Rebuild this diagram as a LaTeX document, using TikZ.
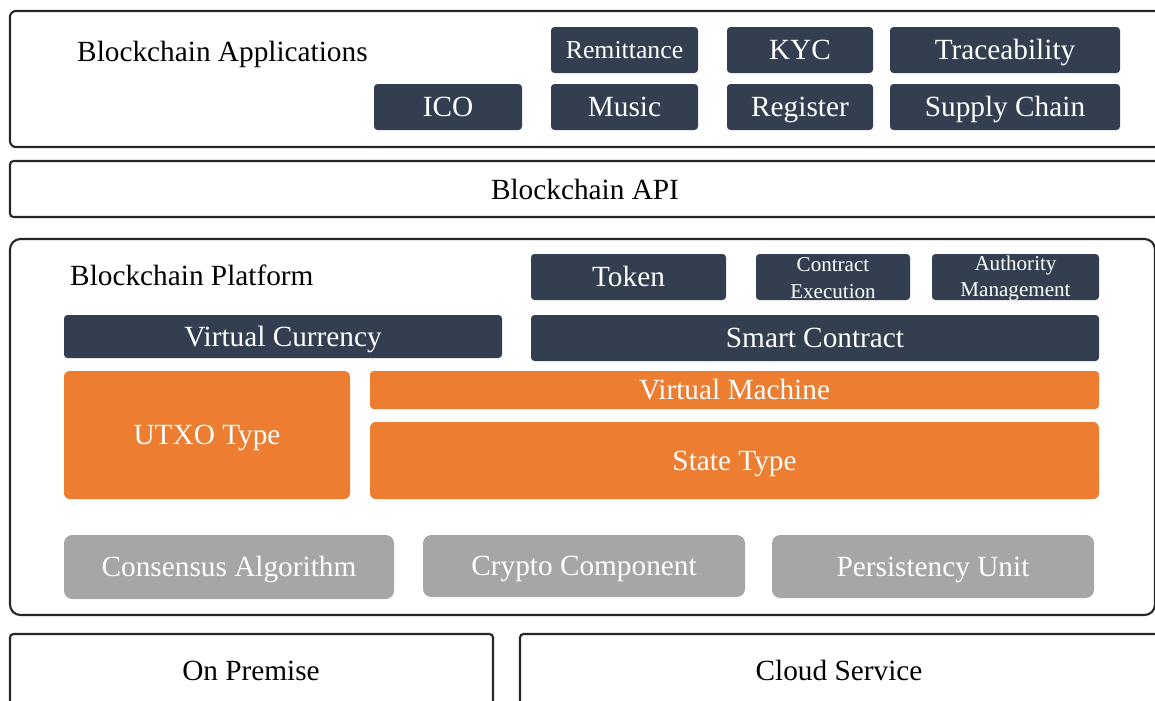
\documentclass[tikz,border=0pt]{standalone}
\usepackage{fontspec}
\setmainfont{Liberation Serif}
\usetikzlibrary{fit}
\definecolor{darkbox}{HTML}{333F50}
\definecolor{orangebox}{HTML}{ED7D31}
\definecolor{graybox}{HTML}{A6A6A6}
\definecolor{outline}{HTML}{262626}
\tikzset{
  bigfont/.style={font=\fontsize{25}{27}\selectfont},
  outer/.style={draw=outline, line width=1.8pt, rounded corners=5pt, inner sep=0pt},
  darkb/.style={fill=darkbox, rounded corners=3pt, inner sep=0pt},
  orangeb/.style={fill=orangebox, rounded corners=5pt, inner sep=0pt},
  grayb/.style={fill=graybox, rounded corners=7pt, inner sep=0pt},
  lbl/.style={inner sep=0pt, text height=16.5pt, text depth=0pt, bigfont},
  wlbl/.style={lbl, text=white},
  smalllbl/.style={wlbl, text height=14.5pt, font=\fontsize{22}{24}\selectfont},
  tinylbl/.style={inner sep=0pt, text=white, align=center, font=\fontsize{18}{22.5}\selectfont},
  title/.style={anchor=west, lbl}
}
\newcommand\bx[5]{\node[#1, fit={(#3)(#4)}] (#2) {};}
\begin{document}
\begin{tikzpicture}[x=0.03cm, y=-0.03cm]
\useasboundingbox (0,0) rectangle (1155,700);
% outer layers
\bx{outer}{apps}{10,11}{1175,147}{}
\bx{outer, rounded corners=3pt}{api}{10,161}{1175,217}{}
\node[lbl] (apitext) at (585,190) {Blockchain API};
\bx{outer, rounded corners=9pt}{platform}{10,239}{1155,615}{}
\bx{outer, rounded corners=3pt}{onprem}{10,634}{493,720}{}
\bx{outer, rounded corners=3pt}{cloud}{520,634}{1175,720}{}
\node[lbl] (onpremtext) at (251,671) {On Premise};
\node[lbl] (cloudtext) at (839,671) {Cloud Service};
% titles
\node[title] (appstitle) at (77,52) {Blockchain Applications};
\node[title] (plattitle) at (70,276) {Blockchain Platform};
% applications
\bx{darkb}{remit}{551,27}{698,73}{}
\node[smalllbl] at (remit.center) {Remittance};
\bx{darkb}{kyc}{727,27}{873,73}{}
\node[wlbl] at (kyc.center) {KYC};
\bx{darkb}{trace}{890,27}{1120,73}{}
\node[wlbl] at (trace.center) {Traceability};
\bx{darkb}{ico}{374,84}{522,130}{}
\node[wlbl] at (ico.center) {ICO};
\bx{darkb}{music}{551,84}{698,130}{}
\node[wlbl] at (music.center) {Music};
\bx{darkb}{register}{727,84}{873,130}{}
\node[wlbl] at (register.center) {Register};
\bx{darkb}{supply}{890,84}{1120,130}{}
\node[wlbl] at (supply.center) {Supply Chain};
% platform
\bx{darkb}{token}{531,254}{726,300}{}
\node[wlbl] at (token.center) {Token};
\bx{darkb}{cexec}{756,254}{910,300}{}
\node[tinylbl] at ([yshift=-1pt]cexec.center) {Contract\\Execution};
\bx{darkb}{auth}{932,254}{1099,300}{}
\node[tinylbl] at ([yshift=-1pt]auth.center) {Authority\\Management};
\bx{darkb}{vcur}{64,315}{502,358}{}
\node[wlbl] at (vcur.center) {Virtual Currency};
\bx{darkb}{smart}{531,315}{1099,361}{}
\node[wlbl] at (smart.center) {Smart Contract};
\bx{orangeb}{utxo}{64,371}{350,499}{}
\node[wlbl] at (utxo.center) {UTXO Type};
\bx{orangeb, rounded corners=3pt}{vm}{370,371}{1099,409}{}
\node[wlbl] at (vm.center) {Virtual Machine};
\bx{orangeb}{state}{370,422}{1099,499}{}
\node[wlbl] at (state.center) {State Type};
\bx{grayb}{consensus}{64,535}{394,599}{}
\node[wlbl] at (consensus.center) {Consensus Algorithm};
\bx{grayb}{crypto}{423,535}{745,597}{}
\node[wlbl] at (crypto.center) {Crypto Component};
\bx{grayb}{persist}{772,535}{1094,598}{}
\node[wlbl] at (persist.center) {Persistency Unit};
\end{tikzpicture}
\end{document}
